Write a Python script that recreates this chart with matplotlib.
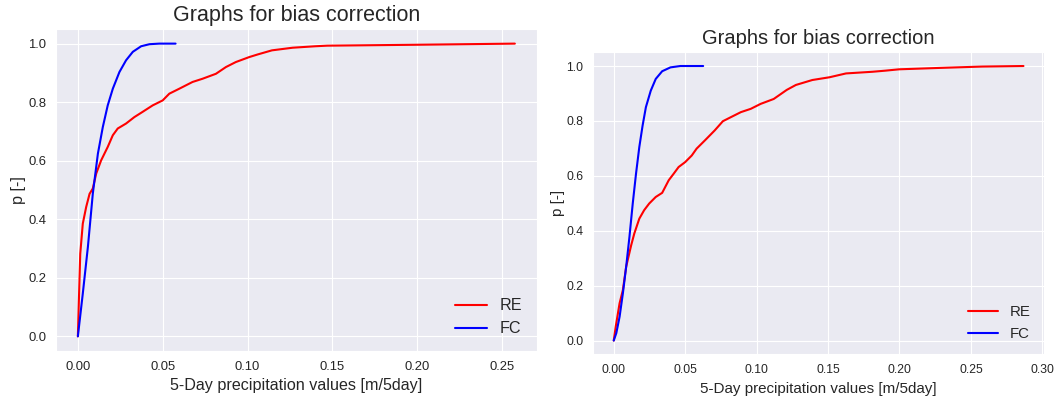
import matplotlib
matplotlib.use("Agg")
import matplotlib.pyplot as plt
import seaborn as sns

# left panel: RE and FC cumulative curves
re1_x = [0, 0.0006, 0.0014, 0.0029, 0.0049, 0.0069, 0.0088, 0.0108, 0.0137, 0.0176, 0.0206,
         0.0235, 0.0284, 0.0333, 0.0382, 0.0441, 0.05, 0.0539, 0.0598, 0.0676, 0.0735, 0.0814,
         0.0873, 0.0931, 0.101, 0.1060, 0.1144, 0.1266, 0.14, 0.147, 0.198, 0.2576]
re1_p = [0, 0.123, 0.282, 0.385, 0.442, 0.487, 0.505, 0.556, 0.601, 0.647, 0.687,
         0.710, 0.727, 0.749, 0.767, 0.789, 0.806, 0.829, 0.846, 0.869, 0.880, 0.897,
         0.920, 0.937, 0.954, 0.963, 0.977, 0.986, 0.991, 0.993, 0.996, 1.0]
fc1_x = [0, 0.0029, 0.0059, 0.0088, 0.0118, 0.0147, 0.0176, 0.0206, 0.0245, 0.0284, 0.0324,
         0.0373, 0.0422, 0.048, 0.0576]
fc1_p = [0, 0.146, 0.305, 0.487, 0.624, 0.715, 0.789, 0.846, 0.903, 0.943, 0.972,
         0.991, 0.998, 1.0, 1.0]

# right panel
re2_x = [0, 0.0014, 0.0041, 0.0064, 0.0087, 0.0122, 0.0144, 0.0179, 0.0213, 0.0248, 0.0294,
         0.0339, 0.0385, 0.042, 0.0454, 0.05, 0.0546, 0.058, 0.0638, 0.0706, 0.0764, 0.0821,
         0.089, 0.0959, 0.1028, 0.112, 0.1211, 0.1275, 0.139, 0.151, 0.1626, 0.181, 0.190,
         0.1998, 0.2278, 0.258, 0.2868]
re2_p = [0, 0.051, 0.136, 0.184, 0.269, 0.347, 0.39, 0.444, 0.475, 0.499, 0.523,
         0.538, 0.584, 0.608, 0.632, 0.650, 0.674, 0.699, 0.729, 0.765, 0.799, 0.814,
         0.832, 0.844, 0.862, 0.880, 0.913, 0.931, 0.949, 0.959, 0.973, 0.979, 0.983,
         0.988, 0.993, 0.998, 1.0]
fc2_x = [0, 0.0018, 0.0041, 0.0064, 0.0087, 0.011, 0.0133, 0.0156, 0.0179, 0.0202, 0.0225,
         0.0259, 0.0294, 0.0339, 0.0397, 0.0466, 0.0626]
fc2_p = [0, 0.027, 0.087, 0.172, 0.269, 0.378, 0.499, 0.608, 0.705, 0.783, 0.850,
         0.910, 0.953, 0.981, 0.995, 1.0, 1.0]

sns.set_style("darkgrid")
plt.rcParams['font.family'] = ['Liberation Sans', 'DejaVu Sans']

fig = plt.figure(figsize=(10.59, 3.97), dpi=100)
ax1 = fig.add_axes([0.0529, 0.1159, 0.4539, 0.8111])
ax2 = fig.add_axes([0.5602, 0.1076, 0.4256, 0.7607])

panels = [(ax1, re1_x, re1_p, fc1_x, fc1_p, 15.5, 9.4, 11.6, 11.6, 1.5),
          (ax2, re2_x, re2_p, fc2_x, fc2_p, 14.5, 8.8, 10.9, 10.8, 1.0)]

for ax, rx, rp, fx, fp, tsize, ksize, lsize, gsize, ypad in panels:
    ax.plot(rx, rp, color='r', lw=1.5, label='RE')
    ax.plot(fx, fp, color='b', lw=1.5, label='FC')
    ax.set_title('Graphs for bias correction', fontsize=tsize, color='.15')
    ax.set_xlabel('5-Day precipitation values [m/5day]', fontsize=lsize, color='.15')
    ax.set_ylabel('p [-]', fontsize=lsize, color='.15', labelpad=ypad)
    ax.tick_params(labelsize=ksize, colors='.15')
    ax.legend(loc='lower right', fontsize=gsize, frameon=False)

ax1.set_yticks([0, 0.2, 0.4, 0.6, 0.8, 1.0])
ax2.set_yticks([0, 0.2, 0.4, 0.6, 0.8, 1.0])
ax2.set_xticks([0, 0.05, 0.10, 0.15, 0.20, 0.25, 0.30])

fig.savefig('out.png', dpi=100)
